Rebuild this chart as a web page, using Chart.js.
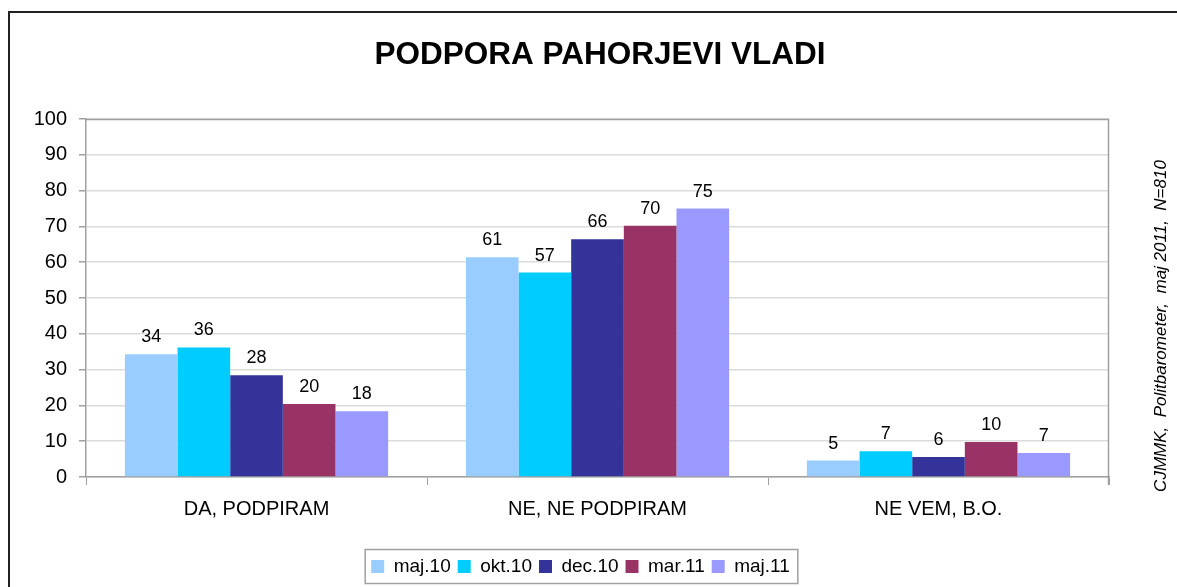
<!DOCTYPE html>
<html><head><meta charset="utf-8">
<script src="https://cdn.jsdelivr.net/npm/chart.js@4/dist/chart.umd.min.js"></script>
<style>html,body{margin:0;padding:0;background:#fff;overflow:hidden}#wrap{width:1177px;height:587px;position:relative}</style>
</head><body><div id="wrap"><canvas id="c" width="1177" height="587"></canvas></div>
<script>
const titleText = 'PODPORA PAHORJEVI VLADI';
const sourceNote = 'CJMMK,  Politbarometer,  maj 2011,  N=810';
const categories = ['DA, PODPIRAM', 'NE, NE PODPIRAM', 'NE VEM, B.O.'];
const seriesNames = ['maj.10', 'okt.10', 'dec.10', 'mar.11', 'maj.11'];
const maj10 = [34.3, 61.4, 4.6];
const okt10 = [36.2, 57.1, 7.2];
const dec10 = [28.4, 66.4, 5.6];
const mar11 = [20.4, 70.2, 9.8];
const maj11 = [18.4, 75.0, 6.7];
const seriesColors = ['#99CCFF', '#00CCFF', '#333399', '#993366', '#9999FF'];
const yMin = 0, yMax = 100, yStep = 10;

const FONT = "'Liberation Sans', Arial, sans-serif";
const seriesValues = [maj10, okt10, dec10, mar11, maj11];

const decorPlugin = {
  id: 'decor',
  beforeDraw(chart) {
    const ctx = chart.ctx;
    ctx.save();
    ctx.fillStyle = '#fff';
    ctx.fillRect(0, 0, chart.width, chart.height);
    ctx.strokeStyle = '#222';
    ctx.lineWidth = 2;
    ctx.strokeRect(9, 12, 1400, 800);
    // title
    ctx.fillStyle = '#000';
    ctx.font = 'bold 31.5px ' + FONT;
    ctx.textAlign = 'center';
    ctx.textBaseline = 'middle';
    ctx.fillText(titleText, 600, 55);
    ctx.restore();
  },
  afterDatasetsDraw(chart) {
    const ctx = chart.ctx;
    const a = chart.chartArea;
    ctx.save();
    // plot area frame
    ctx.strokeStyle = '#a0a0a0';
    ctx.lineWidth = 1.5;
    ctx.beginPath();
    ctx.moveTo(a.left, a.top + 0.5);
    ctx.lineTo(a.right - 0.5, a.top + 0.5);
    ctx.lineTo(a.right - 0.5, a.bottom + 8);
    ctx.stroke();
    // value labels
    ctx.fillStyle = '#000';
    ctx.font = '18px ' + FONT;
    ctx.textAlign = 'center';
    ctx.textBaseline = 'alphabetic';
    chart.data.datasets.forEach((ds, i) => {
      const meta = chart.getDatasetMeta(i);
      meta.data.forEach((bar, j) => {
        ctx.fillText(String(Math.round(ds.data[j])), bar.x, bar.y - 12);
      });
    });
    // side note
    ctx.font = 'italic 17px ' + FONT;
    ctx.translate(1161, 326);
    ctx.rotate(-Math.PI / 2);
    ctx.textBaseline = 'middle';
    ctx.fillText(sourceNote, 0, 0);
    ctx.restore();
  },
  afterDraw(chart) {
    const lg = chart.legend;
    if (!lg || !lg.legendHitBoxes || !lg.legendHitBoxes.length) return;
    const hb = lg.legendHitBoxes;
    const l = hb[0].left - 6, r = hb[hb.length - 1].left + hb[hb.length - 1].width + 8;
    const cy = hb[0].top + hb[0].height / 2;
    const ctx = chart.ctx;
    ctx.save();
    ctx.strokeStyle = '#a0a0a0';
    ctx.lineWidth = 1.5;
    ctx.strokeRect(l, cy - 17, r - l, 34);
    ctx.restore();
  }
};

new Chart(document.getElementById('c'), {
  type: 'bar',
  data: {
    labels: categories,
    datasets: seriesNames.map((n, i) => ({
      label: n,
      data: seriesValues[i],
      backgroundColor: seriesColors[i],
      borderWidth: 0,
      categoryPercentage: 0.772,
      barPercentage: 1.0
    }))
  },
  options: {
    responsive: false,
    animation: false,
    devicePixelRatio: 1,
    layout: { padding: { left: 0, right: 16, top: 119, bottom: 1 } },
    plugins: {
      title: { display: false },
      legend: {
        display: true, position: 'bottom',
        labels: {
          color: '#000', font: { family: FONT, size: 19 },
          boxWidth: 13, boxHeight: 13, padding: 7
        }
      },
      tooltip: { enabled: false }
    },
    scales: {
      x: {
        grid: { display: true, drawOnChartArea: false, drawTicks: true, tickLength: 8, tickColor: '#a0a0a0', offset: true },
        border: { display: true, color: '#a0a0a0', width: 1.5 },
        ticks: { color: '#000', font: { family: FONT, size: 20 }, padding: 12 },
        afterFit(s) { s.height = 73; }
      },
      y: {
        min: yMin, max: yMax,
        grid: { color: '#dcdcdc', lineWidth: 1.5, tickLength: 7, tickColor: '#a0a0a0' },
        border: { display: true, color: '#a0a0a0', width: 1.5 },
        ticks: { stepSize: yStep, color: '#000', font: { family: FONT, size: 20 }, padding: 12 },
        afterFit(s) { s.width = 86; }
      },
      side: {
        position: 'right', display: true,
        grid: { display: false, drawTicks: false },
        border: { display: false },
        ticks: { display: false },
        afterFit(s) { s.width = 52; }
      }
    }
  },
  plugins: [decorPlugin]
});
</script>
</body></html>
